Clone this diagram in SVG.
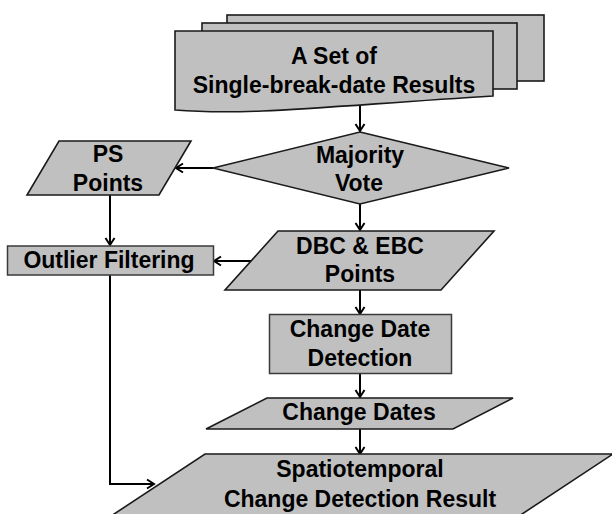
<svg xmlns="http://www.w3.org/2000/svg" width="612" height="514" viewBox="0 0 612 514">
<defs>
<style>
.shape{fill:#c0c0c0;stroke:#1a1a1a;stroke-width:1.6;stroke-linejoin:miter}
.box{fill:#c0c0c0;stroke:#3a3a3a;stroke-width:1.5}
.lbl{font-family:"Liberation Sans",Arial,sans-serif;font-weight:bold;font-size:23px;fill:#000;text-anchor:middle}
.conn{fill:none;stroke:#000;stroke-width:2}
</style>
<marker id="arr" markerUnits="userSpaceOnUse" markerWidth="14" markerHeight="14" refX="9" refY="6" orient="auto">
<path d="M2,1.5 L9,6 L2,10.5" fill="none" stroke="#000" stroke-width="2"/>
</marker>
</defs>
<rect width="612" height="514" fill="#fff"/>

<g id="connectors">
<line class="conn" x1="360" y1="105" x2="360" y2="131" marker-end="url(#arr)"/>
<line class="conn" x1="213" y1="168" x2="176" y2="168" marker-end="url(#arr)"/>
<line class="conn" x1="360" y1="204" x2="360" y2="230" marker-end="url(#arr)"/>
<line class="conn" x1="110" y1="195" x2="110" y2="245" marker-end="url(#arr)"/>
<line class="conn" x1="251" y1="261" x2="214" y2="261" marker-end="url(#arr)"/>
<line class="conn" x1="360" y1="290" x2="360" y2="314" marker-end="url(#arr)"/>
<line class="conn" x1="360" y1="373" x2="360" y2="397" marker-end="url(#arr)"/>
<line class="conn" x1="360" y1="429" x2="360" y2="454" marker-end="url(#arr)"/>
<polyline class="conn" points="110,275 110,484 154,484" marker-end="url(#arr)"/>
</g>

<g id="node-results">
<rect class="shape" x="227" y="15" width="317" height="66"/>
<rect class="shape" x="202" y="23" width="315" height="66"/>
<path class="shape" d="M175,31 L493,31 L493,96 C330,106 250,116 175,110 Z"/>
<text class="lbl" x="334" y="64">A Set of</text>
<text class="lbl" x="334" y="92.5">Single-break-date Results</text>
</g>

<g id="node-majority">
<polygon class="shape" points="360,132 509,168 360,204 213,168"/>
<text class="lbl" x="360" y="162.5">Majority</text>
<text class="lbl" x="359" y="190.5">Vote</text>
</g>

<g id="node-ps">
<polygon class="shape" points="59,141 191,141 159,195 27,195"/>
<text class="lbl" x="108" y="162">PS</text>
<text class="lbl" x="108" y="190.5">Points</text>
</g>

<g id="node-outlier">
<rect class="box" x="7.5" y="246" width="206" height="29"/>
<text class="lbl" x="109" y="268">Outlier Filtering</text>
</g>

<g id="node-dbc">
<polygon class="shape" points="278,231 494,231 441,290 225,290"/>
<text class="lbl" x="360" y="254.3">DBC &amp; EBC</text>
<text class="lbl" x="360" y="281.7">Points</text>
</g>

<g id="node-cdd">
<rect class="box" x="269.5" y="314.5" width="182" height="59"/>
<text class="lbl" x="360" y="336.7">Change Date</text>
<text class="lbl" x="360" y="365.7">Detection</text>
</g>

<g id="node-dates">
<polygon class="shape" points="267,398 513,398 453,429 206,429"/>
<text class="lbl" x="359" y="420">Change Dates</text>
</g>

<g id="node-result">
<polygon class="shape" points="205,454 613,454 513,520 105,520"/>
<text class="lbl" x="360" y="476.7">Spatiotemporal</text>
<text class="lbl" x="360" y="506.7">Change Detection Result</text>
</g>
</svg>
